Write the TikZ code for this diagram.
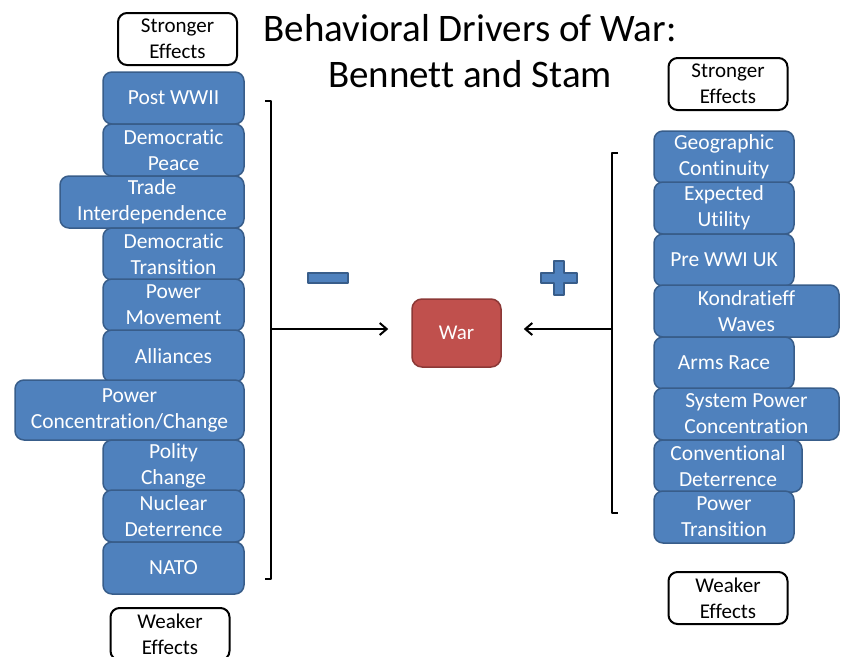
\documentclass[tikz,border=0pt]{standalone}
\usepackage{fontspec}
\setmainfont[Ligatures=NoCommon]{Carlito}
\usetikzlibrary{arrows.meta}
\definecolor{boxblue}{HTML}{4F81BD}
\definecolor{boxline}{HTML}{385D8A}
\definecolor{warred}{HTML}{C0504D}
\definecolor{warline}{HTML}{8C3836}
\begin{document}
\begin{tikzpicture}[x=1pt, y=-1pt, line join=round, line cap=round,
	effect/.style={draw=boxline, line width=1.5pt, fill=boxblue, rounded corners=9pt,
		text=white, align=center, inner sep=0pt, minimum height=52pt,
		font=\fontsize{21.5}{26}\selectfont},
	strength/.style={draw=black, line width=2pt, fill=white, rounded corners=9pt,
		align=center, inner sep=0pt, minimum width=119pt, minimum height=52pt,
		font=\fontsize{21}{26}\selectfont},
	bracket/.style={line width=2.5pt, line cap=butt},
	push/.style={line width=2pt, -{Straight Barb[length=7pt, width=12pt, line width=2pt]}}]
	\useasboundingbox (0,0) rectangle (845,656);
	% titel
	\node[font=\fontsize{39}{42}\selectfont] (titleA) at (470,28) {Behavioral Drivers of War:};
	\node[font=\fontsize{39}{42}\selectfont] (titleB) at (470,74) {Bennett and Stam};
	% links: dempend
	\node[strength] (strongL) at (177.5,39) {Stronger\\Effects};
	\node[effect, minimum width=141pt] (postww) at (173.5,98) {Post WWII};
	\node[effect, minimum width=141pt] (dempeace) at (173.5,150) {Democratic\\Peace};
	\node[effect, minimum width=184pt] (trade) at (152,202) {Trade\\Interdependence};
	\node[effect, minimum width=141pt] (demtrans) at (173.5,254) {Democratic\\Transition};
	\node[effect, minimum width=141pt] (powmove) at (173.5,305) {Power\\Movement};
	\node[effect, minimum width=141pt] (alliance) at (173.5,356) {Alliances};
	\node[effect, minimum width=229pt, minimum height=60pt] (powconc) at (129.5,410) {Power\\Concentration/Change};
	\node[effect, minimum width=141pt] (polity) at (173.5,466) {Polity\\Change};
	\node[effect, minimum width=141pt] (nuclear) at (173.5,516) {Nuclear\\Deterrence};
	\node[effect, minimum width=141pt] (nato) at (173.5,568) {NATO};
	\node[strength] (weakL) at (170,634) {Weaker\\Effects};
	% rechts: verhogend
	\node[strength] (strongR) at (728,84) {Stronger\\Effects};
	\node[effect, minimum width=140pt] (geo) at (724,157) {Geographic\\Continuity};
	\node[effect, minimum width=140pt] (expect) at (724,208) {Expected\\Utility};
	\node[effect, minimum width=140pt] (prewwi) at (724,260) {Pre WWI UK};
	\node[effect, minimum width=185pt] (kondra) at (746.5,311) {Kondratieff\\Waves};
	\node[effect, minimum width=140pt] (arms) at (724,363) {Arms Race};
	\node[effect, minimum width=185pt] (syspow) at (746.5,414) {System Power\\Concentration};
	\node[effect, minimum width=148pt] (conv) at (728,466) {Conventional\\Deterrence};
	\node[effect, minimum width=140pt] (powtrans) at (724,517) {Power\\Transition};
	\node[strength] (weakR) at (728,598) {Weaker\\Effects};
	% oorlog
	\node[draw=warline, line width=1.5pt, fill=warred, rounded corners=10pt, text=white,
		minimum width=89pt, minimum height=68pt, font=\fontsize{21}{24}\selectfont] (war) at (456.5,333) {War};
	% haken en pijlen
	\draw[bracket] (265,101) -- (271,101) -- (271,579) -- (265,579);
	\draw[bracket] (618,153) -- (612,153) -- (612,513) -- (618,513);
	\coordinate (left) at (271,329);
	\coordinate (right) at (612,329);
	\draw[push, shorten >=23pt] (left) -- (left -| war.west);
	\draw[push, shorten >=22pt] (right) -- (right -| war.east);
	% min en plus
	\draw[boxline, line width=1.2pt, fill=boxblue] (308,273) rectangle (348,283);
	\draw[boxline, line width=1.2pt, fill=boxblue] (554,261) -- (564,261) -- (564,273) -- (577,273)
		-- (577,283) -- (564,283) -- (564,295) -- (554,295) -- (554,283) -- (541,283)
		-- (541,273) -- (554,273) -- cycle;
\end{tikzpicture}
\end{document}
